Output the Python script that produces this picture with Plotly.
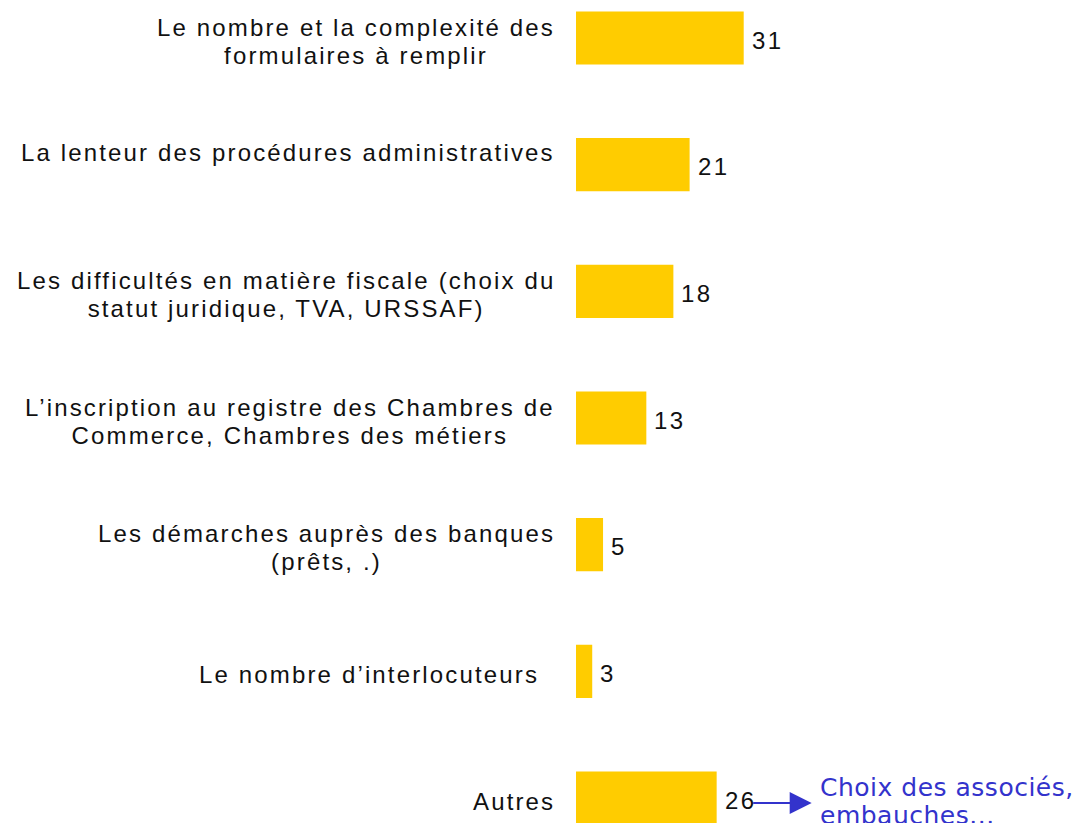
import plotly.graph_objects as go

categories = [
    "Le nombre et la complexité des<br>formulaires à remplir",
    "La lenteur des procédures administratives",
    "Les difficultés en matière fiscale (choix du<br>statut juridique, TVA, URSSAF)",
    "L’inscription au registre des Chambres de<br>Commerce, Chambres des métiers",
    "Les démarches auprès des banques<br>(prêts, .)",
    "Le nombre d’interlocuteurs",
    "Autres",
]
values = [31, 21, 18, 13, 5, 3, 26]
note_text = "Choix des associés,<br>embauches..."

BAR = "#FFCC00"
BLUE = "#3333CC"
FONT = "Liberation Sans, Arial, sans-serif"
NOTE_FONT = "DejaVu Sans, Verdana, sans-serif"
LBL_STYLE = "font-size:24px;letter-spacing:2.15px"
VAL_STYLE = "font-size:24px;letter-spacing:2.3px"
NOTE_STYLE = "font-size:25px;letter-spacing:0.5px"


def styled(text, style):
    return "<br>".join(f'<span style="{style}">{ln}</span>' for ln in text.split("<br>"))


idx = list(range(len(categories)))

fig = go.Figure()
fig.add_trace(go.Bar(
    x=values, y=idx, orientation="h",
    marker=dict(color=BAR, line=dict(width=0)),
    width=0.42, hoverinfo="skip",
))

# value labels
for i, v in enumerate(values):
    fig.add_annotation(
        x=v, y=i, xref="x", yref="y", text=styled(str(v), VAL_STYLE), showarrow=False,
        xanchor="left", yanchor="middle", xshift=6, yshift=-2,
        font=dict(family=FONT, size=21.5, color="#111111"),
    )

# category labels
label_xshift = {5: -16}
label_yshift = {1: 15}
for i, lab in enumerate(categories):
    fig.add_annotation(
        x=0, xref="paper", y=i, yref="y", text=styled(lab, LBL_STYLE), showarrow=False,
        xanchor="right", yanchor="middle", align="center",
        xshift=-19 + label_xshift.get(i, 0), yshift=-3 + label_yshift.get(i, 0),
        font=dict(family=FONT, size=21.5, color="#111111"),
    )

last = len(values) - 1
fig.add_annotation(
    x=values[last], y=last, xref="x", yref="y", text="",
    showarrow=True, arrowhead=2, arrowsize=2.2, arrowwidth=2, arrowcolor=BLUE,
    ax=-60, ay=0, xshift=95, yshift=-5, standoff=0,
)
fig.add_annotation(
    x=values[last], y=last, xref="x", yref="y", text=styled(note_text, NOTE_STYLE),
    showarrow=False, xanchor="left", yanchor="middle", align="left",
    xshift=101, yshift=-3,
    font=dict(family=NOTE_FONT, size=21.5, color=BLUE),
)

fig.update_layout(
    width=1084, height=823,
    margin=dict(l=568, r=0, t=0, b=0),
    paper_bgcolor="white", plot_bgcolor="white",
    showlegend=False,
    xaxis=dict(range=[0, 95.38], visible=False),
    yaxis=dict(range=[6.2605, -0.237], visible=False),
)
fig.write_html("out.html")
